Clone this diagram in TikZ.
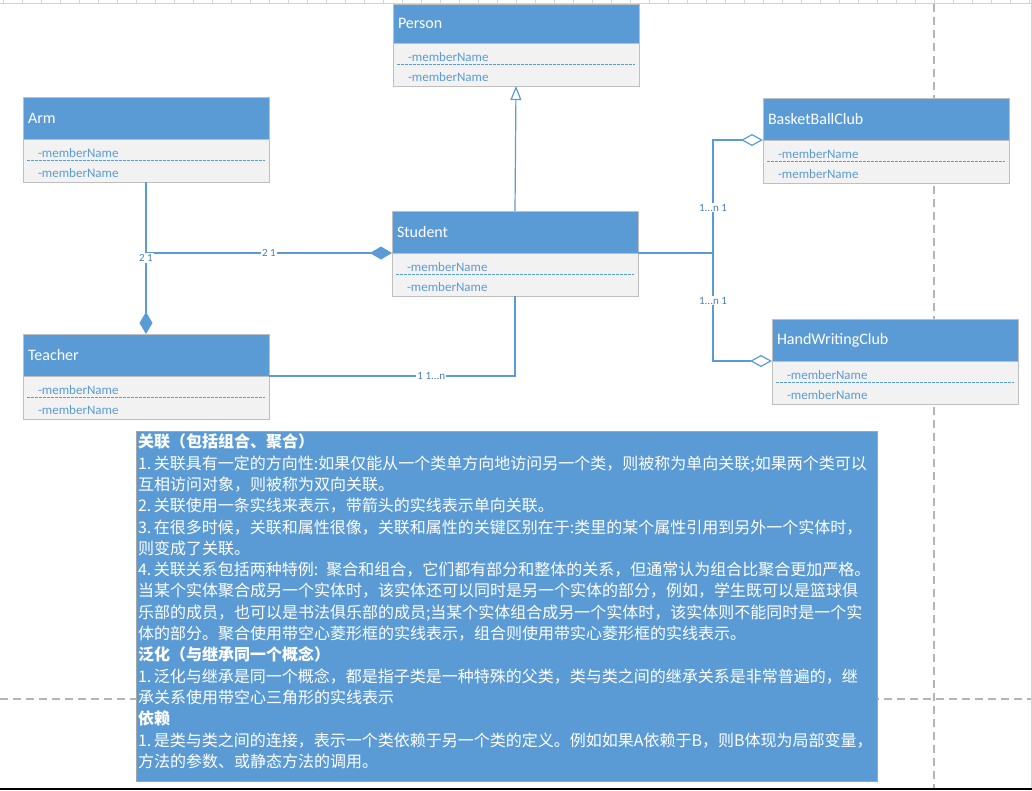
\documentclass[tikz,border=0pt]{standalone}
\usepackage{fontspec}
\setmainfont{Carlito}
\newfontfamily\cjk{Noto Sans CJK SC}
\usetikzlibrary{positioning,arrows.meta}
\definecolor{umlblue}{HTML}{5B9BD5}
\definecolor{bodygray}{HTML}{F2F2F2}
\definecolor{edgegray}{HTML}{BFBFBF}
\definecolor{pagegray}{HTML}{B4B4B4}
\definecolor{rulergray}{HTML}{D4D4D4}
\definecolor{labelblue}{HTML}{4A7EBB}
\definecolor{notegray}{HTML}{A6A6A6}

\begin{document}
\begin{tikzpicture}[x=1pt,y=-1pt]
  \tikzstyle{every node}=[inner sep=0pt,outer sep=0pt]
  \tikzstyle{head}=[draw=edgegray,fill=umlblue,text=white,anchor=north west,
    minimum height=42pt,text width=236pt,inner xsep=5pt,align=left,
    font=\fontsize{16pt}{18pt}\selectfont]
  \tikzstyle{body}=[draw=edgegray,fill=bodygray,text=umlblue,minimum height=43pt,
    text width=216pt,inner xsep=15pt,align=left,font=\fontsize{13pt}{20pt}\selectfont]
  \tikzstyle{sepline}=[umlblue,line width=0.8pt,dash pattern=on 3pt off 1pt]
  \tikzstyle{assoc}=[umlblue,line width=1.2pt]
  \tikzstyle{mult}=[fill=white,text=labelblue,inner xsep=1pt,inner ysep=1pt,
    font=\fontsize{11pt}{12pt}\selectfont]
  \tikzstyle{pagebreak}=[pagegray,line width=1.2pt,dash pattern=on 8pt off 5pt]
  \tikzstyle{notebox}=[draw=notegray,fill=umlblue,anchor=north west,
    minimum width=741pt,minimum height=350pt]
  \tikzstyle{notetext}=[text=white,anchor=north west,text width=738pt,align=left,
    font=\cjk\fontsize{16pt}{21.3pt}\selectfont]
  \useasboundingbox (0,0) rectangle (1032,790);

  % screen ruler and page breaks
  \draw[rulergray,line width=1pt] (0,3) -- (1032,3);
  \foreach \x in {3,22,...,1030}
    \draw[rulergray,line width=1pt] (\x,0) -- (\x,3);
  \draw[pagebreak] (934,4) -- (934,790);
  \draw[pagebreak] (0,699) -- (1032,699);
  \draw[rulergray,line width=1pt] (1031.5,0) -- (1031.5,790);
  \draw[black,line width=2pt] (0,789) -- (1032,789);

  % classes
  \node[head,minimum height=39pt] (personh) at (393,4) {Person};
  \node[body,below=0pt of personh] (person) {\rule{0pt}{14pt}-memberName\\-memberName};
  \draw[sepline] ([xshift=4pt]person.west) -- ([xshift=-4pt]person.east);

  \node[head] (armh) at (23,97) {Arm};
  \node[body,below=0pt of armh] (arm) {\rule{0pt}{14pt}-memberName\\-memberName};
  \draw[sepline] ([xshift=4pt]arm.west) -- ([xshift=-4pt]arm.east);

  \node[head] (studenth) at (392,211) {Student};
  \node[body,below=0pt of studenth] (student) {\rule{0pt}{14pt}-memberName\\-memberName};
  \draw[sepline] ([xshift=4pt]student.west) -- ([xshift=-4pt]student.east);

  \node[head] (teacherh) at (23,334) {Teacher};
  \node[body,below=0pt of teacherh] (teacher) {\rule{0pt}{14pt}-memberName\\-memberName};
  \draw[sepline] ([xshift=4pt]teacher.west) -- ([xshift=-4pt]teacher.east);

  \node[head] (basketh) at (763,98) {BasketBallClub};
  \node[body,below=0pt of basketh] (basket) {\rule{0pt}{14pt}-memberName\\-memberName};
  \draw[sepline] ([xshift=4pt]basket.west) -- ([xshift=-4pt]basket.east);

  \node[head] (handh) at (772,319) {HandWritingClub};
  \node[body,below=0pt of handh] (hand) {\rule{0pt}{14pt}-memberName\\-memberName};
  \draw[sepline] ([xshift=4pt]hand.west) -- ([xshift=-4pt]hand.east);

  % relations
  \draw[assoc,-{Triangle[open,length=14pt,width=11pt]}] (studenth.north) -- (person.south);
  \draw[assoc,-{Diamond[length=22pt,width=13pt]}] (arm.south) -- (teacherh.north);
  \draw[assoc,-{Diamond[length=22pt,width=13pt]}] (arm.south) |- (studenth.south west)
    node[mult,pos=0.5,yshift=-5pt] (armmult) {2 1}
    node[mult,pos=0.75] (studentmult) {2 1};
  \draw[assoc] (teacherh.south east) -| (student.south)
    node[mult,pos=0.33] (teachermult) {1 1...n};
  \coordinate (split) at (713,253);
  \draw[assoc,-{Diamond[open,length=22pt,width=12pt]}] (studenth.south east) -- (split)
    |- node[mult,pos=0.2] (basketmult) {1...n 1} (basketh.south west);
  \draw[assoc,-{Diamond[open,length=22pt,width=12pt]}] (studenth.south east) -- (split)
    |- node[mult,pos=0.22] (handmult) {1...n 1} (handh.south west);

  % note
  \node[notebox] (note) at (136,431) {};
  \node[notetext] (notetxt) at ([xshift=2pt,yshift=-3pt]note.north west) {%
    {\bfseries 关联（包括组合、聚合）}\\
    1.\,关联具有一定的方向性:如果仅能从一个类单方向地访问另一个类，则被称为单向关联;如果两个类可以\\
    互相访问对象，则被称为双向关联。\\
    2.\,关联使用一条实线来表示，带箭头的实线表示单向关联。\\
    3.\,在很多时候，关联和属性很像，关联和属性的关键区别在于:类里的某个属性引用到另外一个实体时，\\
    则变成了关联。\\
    4.\,关联关系包括两种特例: 聚合和组合，它们都有部分和整体的关系，但通常认为组合比聚合更加严格。\\
    当某个实体聚合成另一个实体时，该实体还可以同时是另一个实体的部分，例如，学生既可以是篮球俱\\
    乐部的成员，也可以是书法俱乐部的成员;当某个实体组合成另一个实体时，该实体则不能同时是一个实\\
    体的部分。聚合使用带空心菱形框的实线表示，组合则使用带实心菱形框的实线表示。\\
    {\bfseries 泛化（与继承同一个概念）}\\
    1.\,泛化与继承是同一个概念，都是指子类是一种特殊的父类，类与类之间的继承关系是非常普遍的，继\\
    承关系使用带空心三角形的实线表示\\
    {\bfseries 依赖}\\
    1.\,是类与类之间的连接，表示一个类依赖于另一个类的定义。例如如果A依赖于B，则B体现为局部变量，\\
    方法的参数、或静态方法的调用。};
\end{tikzpicture}
\end{document}
